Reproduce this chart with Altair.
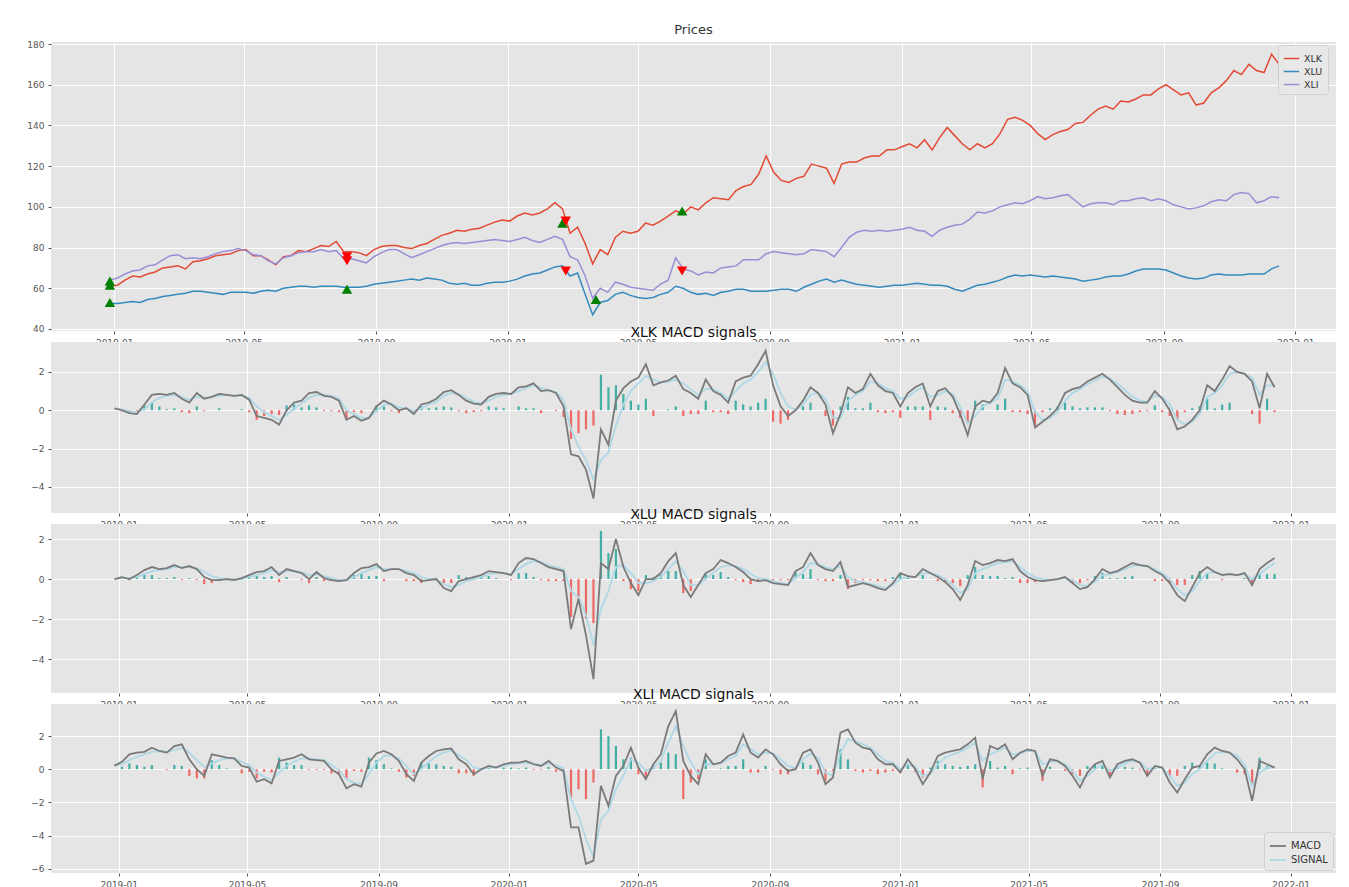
import altair as alt
import pandas as pd

# ---------------- data (weekly samples) ----------------
START = "2018-12-28"
N_WEEKS = 156
dates = pd.date_range(START, periods=N_WEEKS, freq="7D")

TICKERS = ["XLK", "XLU", "XLI"]
TICKER_COLORS = ["#E24A33", "#348ABD", "#988ED5"]

XLK_PRICE = [
    61, 61.5, 64, 66, 65.5, 67, 68, 70, 70.5, 71,
    69.5, 73, 73.5, 74.5, 76, 76.5, 77, 78.5, 79, 76,
    76, 74, 71.5, 75.5, 76, 78.5, 78, 79.5, 81, 80.5,
    83, 78, 78, 77.5, 76, 79, 80.5, 81, 81, 80,
    79.5, 81, 82, 84, 86, 87, 88.5, 88, 89, 89.5,
    91, 92.5, 93.5, 93, 95.5, 97, 96, 97, 99, 102,
    99, 87, 90, 82, 72, 79, 76.5, 85, 88, 87,
    88, 92, 91, 93, 95.5, 98, 96.5, 100, 98.5, 102,
    104.5, 104, 103.5, 108, 110, 111, 116, 125, 117, 113,
    112, 114, 115, 121, 120, 119, 111.5, 121, 122, 122,
    124, 125, 125, 128, 128, 129.5, 131, 129, 133, 128,
    134, 139, 135, 131, 128, 131, 129, 131, 136, 143,
    144, 142.5, 140, 136, 133, 135.5, 137, 138, 141, 141.5,
    145, 148, 149.5, 148, 152, 151.5, 153, 155, 155, 158,
    160, 157.5, 155, 156, 150, 151, 156, 158.5, 162, 167,
    165, 170, 167, 166, 175, 170,
]
XLU_PRICE = [
    52.5, 52.5, 53, 53.5, 53, 54.5, 55, 56, 56.5, 57,
    57.5, 58.5, 58.5, 58, 57.5, 57, 58, 58, 58, 57.5,
    58.5, 59, 58.5, 60, 60.5, 61, 61, 60.5, 61, 61,
    61, 60.5, 60.5, 60.5, 61, 62, 62.5, 63, 63.5, 64,
    64.5, 64, 65, 64.5, 64, 62.5, 62, 62.5, 61.5, 61.5,
    62.5, 63, 63, 63.5, 64.5, 66, 67, 67.5, 69, 70.5,
    71, 66, 67.5, 57, 47, 53, 54, 57, 58, 56.5,
    55.5, 55, 55.5, 57, 58, 61, 60, 58, 57, 57.5,
    56.5, 58, 58.5, 59.5, 59.5, 58.5, 58.5, 58.5, 59, 59.5,
    59.5, 58.5, 60.5, 62, 63.5, 64.5, 63, 64, 63, 62,
    61.5, 61, 60.5, 61, 61.5, 61.5, 62, 62.5, 62, 61.5,
    61.5, 61, 59.5, 58.5, 60, 61.5, 62, 63, 64, 65.5,
    66.5, 66, 66.5, 66, 65.5, 66, 65.5, 65, 64.5, 63.5,
    64, 64.5, 65.5, 66, 66, 67, 68.5, 69.5, 69.5, 69.5,
    69, 67.5, 66, 65, 64.5, 65, 66.5, 67, 66.5, 66.5,
    66.5, 67, 67, 67, 69.5, 71,
]
XLI_PRICE = [
    64, 65, 67, 68.5, 69, 71, 71.5, 74, 76, 76.5,
    74.5, 75, 74.5, 75.5, 77, 78, 78.5, 79.5, 78.5, 76.5,
    76, 73.5, 72, 75, 76, 77.5, 78, 78, 79, 78,
    78.5, 74.5, 74.5, 73.5, 72.5, 75.5, 77.5, 79, 79, 77,
    75, 76.5, 78, 79.5, 81, 82, 82.5, 82, 82.5, 83,
    83.5, 84, 83.5, 83, 84, 85, 83.5, 82.5, 84, 85.5,
    84, 75.5, 74, 66, 55, 60, 58, 63, 62, 60.5,
    60, 59.5, 59, 62, 64, 75, 69.5, 68.5, 66.5, 68,
    67.5, 70, 70.5, 71, 74, 74, 74, 77, 78, 77.5,
    77, 76.5, 77, 79, 78.5, 78, 75.5, 80, 85, 87.5,
    88.5, 88, 88.5, 88, 88.5, 89, 90, 88.5, 88, 85.5,
    88.5, 90, 91, 91.5, 94, 97.5, 97, 98, 100, 101,
    102, 101.5, 103, 105, 104, 104.5, 105.5, 106, 103, 100,
    101.5, 102, 102, 101, 103, 103, 104, 104.5, 103, 104,
    103, 101, 100, 99, 99.5, 100.5, 102.5, 103.5, 103, 106,
    107, 106.5, 102, 103, 105, 104.5,
]

BUY_DATES = ["2018-12-28", "2018-12-28", "2018-12-28", "2019-08-05",
             "2020-02-21", "2020-03-23", "2020-06-11"]
BUY_VALUES = [63.5, 61.5, 53.0, 59.5, 92.0, 54.5, 98.0]
SELL_DATES = ["2019-08-05", "2019-08-05", "2020-02-24", "2020-02-24", "2020-06-11"]
SELL_VALUES = [75.5, 73.5, 93.0, 68.5, 68.5]

XLK_MACD = [
    0.1, 0.0, -0.15, -0.2, 0.3, 0.8, 0.85, 0.8, 0.9, 0.6,
    0.4, 0.9, 0.6, 0.7, 0.85, 0.8, 0.75, 0.8, 0.55, -0.3,
    -0.4, -0.5, -0.75, 0.0, 0.4, 0.5, 0.9, 0.95, 0.75, 0.7,
    0.5, -0.5, -0.3, -0.55, -0.4, 0.2, 0.5, 0.3, 0.0, 0.1,
    -0.2, 0.3, 0.4, 0.6, 0.95, 1.05, 0.8, 0.5, 0.35, 0.3,
    0.7, 0.85, 0.9, 0.85, 1.2, 1.25, 1.4, 1.0, 1.05, 0.9,
    0.2, -2.3, -2.4, -3.1, -4.6, -1.0, -1.8, 0.5, 1.15, 1.5,
    1.7, 2.4, 1.3, 1.45, 1.55, 1.8, 1.1, 0.9, 0.6, 1.6,
    1.0, 0.8, 0.4, 1.5, 1.7, 1.8, 2.4, 3.1, 1.3, 0.2,
    -0.3, 0.0, 0.5, 1.2, 0.9, 0.3, -1.2, -0.2, 1.2, 0.9,
    1.1, 1.9, 1.3, 1.0, 0.9, 0.2, 0.9, 1.2, 1.4, 0.2,
    1.0, 1.15, 0.7, -0.2, -1.3, 0.2, 0.5, 0.4, 0.9, 2.2,
    1.4, 1.2, 0.8, -0.9, -0.6, -0.3, 0.1, 0.9, 1.1, 1.2,
    1.5, 1.7, 1.9, 1.6, 1.2, 0.8, 0.5, 0.4, 0.4, 1.0,
    0.6, 0.0, -1.0, -0.85, -0.5, 0.0, 1.3, 1.0, 1.6, 2.3,
    2.0, 1.9, 1.5, 0.1, 1.9, 1.2,
]
XLK_SIGNAL = [
    0.1, 0.05, -0.05, -0.1, 0.05, 0.4, 0.65, 0.75, 0.8, 0.7,
    0.55, 0.7, 0.65, 0.7, 0.75, 0.8, 0.75, 0.75, 0.65, 0.2,
    -0.1, -0.3, -0.5, -0.25, 0.1, 0.35, 0.65, 0.8, 0.8, 0.75,
    0.6, 0.0, -0.2, -0.4, -0.4, -0.05, 0.3, 0.35, 0.15, 0.1,
    -0.05, 0.1, 0.3, 0.45, 0.75, 0.9, 0.85, 0.65, 0.45, 0.35,
    0.5, 0.7, 0.8, 0.85, 1.0, 1.15, 1.3, 1.15, 1.05, 0.95,
    0.55, -1.0, -1.9, -2.6, -3.6, -2.6, -2.2, -0.8, 0.3, 1.0,
    1.4, 1.8, 1.6, 1.45, 1.5, 1.6, 1.4, 1.1, 0.8, 1.1,
    1.1, 0.9, 0.6, 1.0, 1.4, 1.6, 2.0, 2.5, 1.9, 0.9,
    0.2, 0.0, 0.3, 0.8, 0.9, 0.6, -0.4, -0.4, 0.5, 0.8,
    1.0, 1.5, 1.4, 1.15, 1.0, 0.6, 0.7, 1.0, 1.2, 0.7,
    0.8, 1.0, 0.85, 0.2, -0.7, -0.3, 0.2, 0.4, 0.6, 1.6,
    1.5, 1.3, 1.0, -0.1, -0.5, -0.4, -0.1, 0.5, 0.9, 1.1,
    1.35, 1.55, 1.75, 1.65, 1.4, 1.05, 0.7, 0.5, 0.45, 0.75,
    0.7, 0.3, -0.5, -0.75, -0.6, -0.2, 0.7, 0.9, 1.3, 1.9,
    2.0, 1.9, 1.7, 0.8, 1.3, 1.3,
]
XLK_HIST = [
    0.0, -0.05, -0.1, -0.1, 0.25, 0.4, 0.2, 0.05, 0.1, -0.1,
    -0.15, 0.2, -0.05, 0.0, 0.1, 0.0, 0.0, 0.05, -0.1, -0.5,
    -0.3, -0.2, -0.25, 0.25, 0.3, 0.15, 0.25, 0.15, -0.05, -0.05,
    -0.1, -0.5, -0.1, -0.15, 0.0, 0.25, 0.2, -0.05, -0.15, 0.0,
    -0.15, 0.2, 0.1, 0.15, 0.2, 0.15, -0.05, -0.15, -0.1, -0.05,
    0.2, 0.15, 0.1, 0.0, 0.2, 0.1, 0.1, -0.15, 0.0, -0.05,
    -0.35, -1.5, -1.2, -1.0, -0.8, 1.85, 1.2, 1.3, 0.85, 0.5,
    0.3, 0.6, -0.3, 0.0, 0.05, 0.2, -0.3, -0.2, -0.2, 0.5,
    -0.1, -0.1, -0.2, 0.5, 0.3, 0.2, 0.4, 0.6, -0.6, -0.7,
    -0.5, 0.0, 0.2, 0.4, 0.0, -0.3, -0.8, 0.2, 0.7, 0.1,
    0.1, 0.4, -0.1, -0.15, -0.1, -0.4, 0.2, 0.2, 0.2, -0.5,
    0.2, 0.15, -0.15, -0.4, -0.6, 0.5, 0.3, 0.0, 0.3, 0.6,
    -0.1, -0.1, -0.2, -0.8, -0.1, 0.1, 0.2, 0.4, 0.2, 0.1,
    0.15, 0.15, 0.15, -0.05, -0.2, -0.25, -0.2, -0.1, -0.05, 0.25,
    -0.1, -0.3, -0.5, -0.1, 0.1, 0.2, 0.6, 0.1, 0.3, 0.4,
    0.0, 0.0, -0.2, -0.7, 0.6, -0.1,
]

XLU_MACD = [
    0.0, 0.1, 0.0, 0.2, 0.45, 0.6, 0.5, 0.55, 0.7, 0.55,
    0.65, 0.5, 0.1, -0.05, -0.05, 0.0, -0.05, 0.05, 0.2, 0.35,
    0.4, 0.6, 0.2, 0.5, 0.4, 0.3, 0.0, 0.35, 0.05, -0.05,
    -0.1, -0.05, 0.3, 0.55, 0.6, 0.75, 0.4, 0.5, 0.5, 0.3,
    0.2, -0.1, -0.05, 0.0, -0.45, -0.6, -0.1, 0.0, 0.1, 0.2,
    0.4, 0.35, 0.3, 0.2, 0.8, 1.05, 1.0, 0.8, 0.6, 0.5,
    0.4, -2.5, -1.0, -2.8, -5.0, 0.8, 0.5, 2.0, 0.6, -0.2,
    -0.8, 0.0, 0.0, 0.3, 0.9, 1.3, -0.3, -0.9, -0.3, 0.3,
    0.5, 0.95, 0.8, 0.6, 0.35, 0.0, -0.1, -0.05, -0.2, -0.25,
    -0.3, 0.4, 0.6, 1.3, 0.7, 0.5, 0.4, 0.85, -0.4, -0.3,
    -0.2, -0.3, -0.45, -0.55, -0.2, 0.3, 0.15, 0.1, 0.5, 0.3,
    0.1, -0.15, -0.5, -1.05, -0.3, 0.9, 0.7, 0.8, 0.95, 0.9,
    1.0, 0.4, 0.1, -0.05, -0.1, -0.05, 0.0, 0.1, -0.2, -0.5,
    -0.4, 0.0, 0.5, 0.3, 0.4, 0.6, 0.8, 0.7, 0.65, 0.4,
    0.2, -0.2, -0.8, -1.1, -0.4, 0.3, 0.6, 0.35, 0.2, 0.25,
    0.2, 0.3, -0.3, 0.5, 0.8, 1.05,
]
XLU_SIGNAL = [
    0.0, 0.05, 0.05, 0.1, 0.25, 0.4, 0.45, 0.5, 0.6, 0.6,
    0.6, 0.55, 0.35, 0.15, 0.05, 0.0, 0.0, 0.0, 0.1, 0.2,
    0.3, 0.45, 0.35, 0.4, 0.4, 0.35, 0.2, 0.25, 0.15, 0.05,
    -0.05, -0.05, 0.1, 0.3, 0.45, 0.6, 0.5, 0.5, 0.5, 0.4,
    0.3, 0.1, 0.0, 0.0, -0.25, -0.4, -0.3, -0.1, 0.0, 0.1,
    0.25, 0.3, 0.3, 0.25, 0.5, 0.75, 0.9, 0.85, 0.7, 0.6,
    0.5, -0.6, -0.9, -1.8, -3.3, -1.5, -0.6, 0.6, 0.7, 0.3,
    -0.2, -0.2, -0.1, 0.1, 0.5, 0.9, 0.4, -0.3, -0.3, 0.0,
    0.3, 0.6, 0.7, 0.65, 0.5, 0.25, 0.05, 0.0, -0.1, -0.2,
    -0.25, 0.05, 0.35, 0.8, 0.75, 0.6, 0.5, 0.65, 0.1, -0.1,
    -0.15, -0.25, -0.35, -0.45, -0.3, 0.0, 0.1, 0.1, 0.3, 0.3,
    0.2, 0.0, -0.3, -0.7, -0.5, 0.3, 0.5, 0.65, 0.8, 0.85,
    0.9, 0.6, 0.3, 0.1, 0.0, -0.05, 0.0, 0.05, -0.05, -0.3,
    -0.35, -0.15, 0.2, 0.25, 0.35, 0.5, 0.65, 0.7, 0.65, 0.5,
    0.3, 0.0, -0.5, -0.8, -0.6, -0.1, 0.3, 0.35, 0.25, 0.25,
    0.2, 0.25, 0.0, 0.25, 0.55, 0.8,
]
XLU_HIST = [
    0.0, 0.05, -0.05, 0.1, 0.2, 0.2, 0.05, 0.05, 0.1, -0.05,
    0.05, -0.05, -0.25, -0.2, -0.1, 0.0, -0.05, 0.05, 0.1, 0.15,
    0.1, 0.15, -0.15, 0.1, 0.0, -0.05, -0.2, 0.1, -0.1, -0.1,
    -0.05, 0.0, 0.2, 0.25, 0.15, 0.15, -0.1, 0.0, 0.0, -0.1,
    -0.1, -0.2, -0.05, 0.0, -0.2, -0.2, 0.2, 0.1, 0.1, 0.1,
    0.15, 0.05, 0.0, -0.05, 0.3, 0.3, 0.1, -0.05, -0.1, -0.1,
    -0.1, -1.9, -1.2, -2.0, -2.2, 2.4, 1.3, 1.5, -0.1, -0.5,
    -0.6, 0.2, 0.1, 0.2, 0.4, 0.4, -0.7, -0.6, 0.0, 0.3,
    0.2, 0.35, 0.1, -0.05, -0.15, -0.25, -0.15, -0.05, -0.1, -0.05,
    -0.05, 0.35, 0.25, 0.5, -0.05, -0.1, -0.1, 0.2, -0.5, -0.2,
    -0.05, -0.05, -0.1, -0.1, 0.1, 0.3, 0.05, 0.0, 0.2, 0.0,
    -0.1, -0.15, -0.2, -0.35, 0.2, 0.6, 0.2, 0.15, 0.15, 0.05,
    0.1, -0.2, -0.2, -0.15, -0.1, 0.0, 0.0, 0.05, -0.15, -0.2,
    -0.05, 0.15, 0.3, 0.05, 0.05, 0.1, 0.15, 0.0, 0.0, -0.1,
    -0.1, -0.2, -0.3, -0.3, 0.2, 0.4, 0.3, 0.0, -0.05, 0.0,
    0.0, 0.05, -0.3, 0.25, 0.25, 0.25,
]

XLI_MACD = [
    0.22, 0.45, 0.9, 1.0, 1.05, 1.3, 1.1, 1.0, 1.4, 1.5,
    0.6, 0.0, -0.4, 0.9, 0.8, 0.7, 0.65, 0.2, 0.1, -0.75,
    -0.6, -0.85, 0.5, 0.6, 0.7, 0.9, 0.6, 0.55, 0.5, 0.0,
    -0.3, -1.15, -0.9, -1.05, 0.4, 0.95, 1.1, 0.9, 0.5, -0.3,
    -0.7, 0.4, 0.8, 1.1, 1.2, 1.25, 0.6, 0.3, -0.3, 0.0,
    0.2, 0.1, 0.3, 0.4, 0.4, 0.5, 0.3, 0.2, 0.5, 0.1,
    -0.1, -3.5, -3.5, -5.7, -5.5, -1.0, -2.2, -0.4, 0.2, 1.3,
    0.1, -0.6, 0.3, 0.9, 2.6, 3.5, 0.5, -0.4, -0.9, 0.9,
    0.3, 0.4, 0.8, 1.0, 2.1, 1.0, 0.7, 1.2, 0.9, 0.3,
    -0.1, 0.0, 1.0, 1.2, 0.4, -0.9, -0.5, 2.2, 2.4, 1.6,
    1.3, 1.2, 0.6, 0.3, 0.3, -0.2, 0.6, 0.0, -0.9, -0.2,
    0.8, 1.0, 1.1, 1.2, 1.5, 1.9, -0.6, 1.4, 1.2, 1.5,
    0.6, 1.0, 1.2, 1.1, -0.4, 0.6, 0.5, 0.2, -0.4, -1.1,
    -0.2, 0.3, 0.5, -0.5, 0.3, 0.5, 0.6, 0.4, -0.4, 0.2,
    0.1, -0.8, -1.4, -0.6, 0.1, 0.2, 0.9, 1.3, 1.1, 1.0,
    0.6, 0.0, -1.9, 0.5, 0.3, 0.1,
]
XLI_SIGNAL = [
    0.22, 0.3, 0.55, 0.75, 0.9, 1.05, 1.1, 1.05, 1.15, 1.3,
    1.0, 0.55, 0.15, 0.35, 0.55, 0.65, 0.65, 0.45, 0.25, -0.2,
    -0.45, -0.65, -0.2, 0.2, 0.45, 0.65, 0.65, 0.6, 0.55, 0.25,
    -0.05, -0.6, -0.8, -0.9, -0.3, 0.4, 0.8, 0.85, 0.65, 0.2,
    -0.3, 0.0, 0.45, 0.8, 1.0, 1.1, 0.85, 0.55, 0.1, 0.0,
    0.1, 0.1, 0.2, 0.3, 0.35, 0.4, 0.35, 0.25, 0.35, 0.25,
    0.05, -1.8, -2.8, -4.2, -5.3, -3.0, -2.5, -1.2, -0.4, 0.6,
    0.4, -0.1, 0.1, 0.5, 1.6, 2.6, 1.4, 0.4, -0.3, 0.3,
    0.3, 0.35, 0.6, 0.8, 1.5, 1.2, 0.9, 1.0, 0.95, 0.6,
    0.2, 0.05, 0.6, 0.95, 0.7, -0.2, -0.4, 1.0, 1.8, 1.7,
    1.5, 1.3, 0.9, 0.5, 0.4, 0.0, 0.3, 0.15, -0.4, -0.3,
    0.3, 0.7, 0.9, 1.05, 1.3, 1.6, 0.5, 0.9, 1.1, 1.3,
    0.9, 0.95, 1.1, 1.1, 0.3, 0.45, 0.5, 0.3, -0.1, -0.7,
    -0.4, 0.0, 0.3, -0.1, 0.1, 0.35, 0.5, 0.45, 0.0, 0.1,
    0.1, -0.4, -1.0, -0.8, -0.3, 0.0, 0.5, 0.95, 1.05, 1.0,
    0.8, 0.3, -1.0, -0.2, 0.1, 0.1,
]
XLI_HIST = [
    0.0, 0.15, 0.35, 0.25, 0.15, 0.25, 0.0, -0.05, 0.25, 0.2,
    -0.4, -0.55, -0.55, 0.55, 0.25, 0.05, 0.0, -0.25, -0.15, -0.55,
    -0.15, -0.2, 0.7, 0.4, 0.25, 0.25, -0.05, -0.05, -0.05, -0.25,
    -0.25, -0.55, -0.1, -0.15, 0.7, 0.55, 0.3, 0.05, -0.15, -0.5,
    -0.4, 0.4, 0.35, 0.3, 0.2, 0.15, -0.25, -0.25, -0.4, 0.0,
    0.1, 0.0, 0.1, 0.1, 0.05, 0.1, -0.05, -0.05, 0.15, -0.15,
    -0.15, -1.7, -1.2, -1.8, -0.8, 2.4, 2.0, 1.4, 0.6, 0.7,
    -0.3, -0.5, 0.2, 0.4, 1.0, 0.9, -1.8, -0.8, -0.6, 0.6,
    0.0, 0.05, 0.2, 0.2, 0.6, -0.2, -0.2, 0.2, -0.05, -0.3,
    -0.3, -0.05, 0.4, 0.25, -0.3, -0.7, -0.1, 1.2, 0.6, -0.1,
    -0.2, -0.1, -0.3, -0.2, -0.1, -0.2, 0.3, -0.15, -0.5, 0.1,
    0.5, 0.3, 0.2, 0.15, 0.2, 0.3, -1.1, 0.5, 0.1, 0.2,
    -0.3, 0.05, 0.1, 0.0, -0.7, 0.15, 0.0, -0.1, -0.3, -0.4,
    0.2, 0.3, 0.2, -0.4, 0.2, 0.15, 0.1, -0.05, -0.4, 0.1,
    0.0, -0.4, -0.4, 0.2, 0.4, 0.2, 0.4, 0.35, 0.05, 0.0,
    -0.2, -0.3, -0.9, 0.7, 0.2, 0.0,
]

PRICE_TICKS = [40, 60, 80, 100, 120, 140, 160, 180]
MACD_TICKS = [-4, -2, 0, 2]
MACD_TICKS_XLI = [-6, -4, -2, 0, 2]

# ---------------- styling ----------------
FONT = "DejaVu Sans"
BG = "#E5E5E5"
TEAL = "#26A69A"
RED = "#EF5350"
MACD_COLOR = "#7A7A7A"
SIGNAL_COLOR = "#ADD8E6"

X_DOMAIN = [alt.DateTime(year=2018, month=11, date=3, hours=8),
            alt.DateTime(year=2022, month=2, date=7, hours=19)]
X_TICKS = [alt.DateTime(year=y, month=m, date=1)
           for (y, m) in [(2019, 1), (2019, 5), (2019, 9), (2020, 1), (2020, 5),
                          (2020, 9), (2021, 1), (2021, 5), (2021, 9), (2022, 1)]]

W = 1285


def xenc():
    return alt.X("date:T", scale=alt.Scale(domain=X_DOMAIN),
                 axis=alt.Axis(values=X_TICKS, format="%Y-%m", title=None,
                               labelFlush=False, labelOverlap=False))


def yaxis(ticks):
    return alt.Axis(values=ticks, title=None)


# ---------------- prices panel ----------------
price_df = pd.DataFrame({
    "date": list(dates) * 3,
    "ticker": ["XLK"] * N_WEEKS + ["XLU"] * N_WEEKS + ["XLI"] * N_WEEKS,
    "price": XLK_PRICE + XLU_PRICE + XLI_PRICE,
})
buy_df = pd.DataFrame({"date": pd.to_datetime(BUY_DATES), "price": BUY_VALUES})
sell_df = pd.DataFrame({"date": pd.to_datetime(SELL_DATES), "price": SELL_VALUES})

price_y = alt.Y("price:Q", scale=alt.Scale(domain=[39, 181], nice=False, zero=False),
                axis=yaxis(PRICE_TICKS))

price_lines = alt.Chart(price_df).mark_line(strokeWidth=1.5).encode(
    x=xenc(), y=price_y,
    color=alt.Color("ticker:N", scale=alt.Scale(domain=TICKERS, range=TICKER_COLORS),
                    legend=alt.Legend(title=None, orient="none", legendX=1227, legendY=3,
                                      symbolType="stroke", symbolStrokeWidth=1.5,
                                      symbolSize=240, labelFontSize=9.5, labelColor="#333",
                                      fillColor="#E8E8E8", strokeColor="#D0D0D0",
                                      padding=5, rowPadding=0, cornerRadius=3)),
)
buys = alt.Chart(buy_df).mark_point(shape="triangle-up", filled=True, size=110,
                                    color="#008000", opacity=1).encode(x=xenc(), y=price_y)
sells = alt.Chart(sell_df).mark_point(shape="triangle-down", filled=True, size=110,
                                      color="#FF0000", opacity=1).encode(x=xenc(), y=price_y)

p1 = alt.layer(price_lines, buys, sells).properties(
    width=W, height=289,
    title=alt.Title("Prices", fontSize=13, fontWeight="normal", color="#333",
                    offset=3, font=FONT),
)


# ---------------- MACD panels ----------------
def macd_panel(name, macd, signal, hist, domain, ticks, height, legend):
    df = pd.DataFrame({"date": dates, "MACD": macd, "SIGNAL": signal, "hist": hist})
    yscale = alt.Scale(domain=domain, nice=False, zero=False)
    bars = alt.Chart(df).mark_bar(width=2.2, opacity=0.85).encode(
        x=xenc(),
        y=alt.Y("hist:Q", scale=yscale, axis=yaxis(ticks)),
        color=alt.condition("datum.hist > 0", alt.value(TEAL), alt.value(RED)),
    )
    color_kwargs = dict(scale=alt.Scale(domain=["MACD", "SIGNAL"],
                                        range=[MACD_COLOR, SIGNAL_COLOR]))
    if legend:
        color_kwargs["legend"] = alt.Legend(
            title=None, orient="bottom-right", offset=3,
            symbolType="stroke", symbolStrokeWidth=1.8, symbolSize=256,
            labelFontSize=10, labelColor="#333",
            fillColor="#E8E8E8", strokeColor="#D0D0D0",
            padding=5, rowPadding=0, cornerRadius=3)
    else:
        color_kwargs["legend"] = None
    lines = alt.Chart(df).transform_fold(
        ["SIGNAL", "MACD"], as_=["series", "val"]
    ).mark_line(strokeWidth=1.8).encode(
        x=xenc(),
        y=alt.Y("val:Q", scale=yscale, axis=yaxis(ticks)),
        color=alt.Color("series:N", **color_kwargs),
    )
    return alt.layer(bars, lines).properties(
        width=W, height=height,
        title=alt.Title(name + " MACD signals", fontSize=14, fontWeight="normal",
                        color="#111", offset=2, font=FONT),
    )


p2 = macd_panel("XLK", XLK_MACD, XLK_SIGNAL, XLK_HIST, [-5.36, 3.56], MACD_TICKS, 171, False)
p3 = macd_panel("XLU", XLU_MACD, XLU_SIGNAL, XLU_HIST, [-5.69, 2.75], MACD_TICKS, 169, False)
p4 = macd_panel("XLI", XLI_MACD, XLI_SIGNAL, XLI_HIST, [-6.25, 3.93], MACD_TICKS_XLI, 169, True)

chart = alt.vconcat(p1, p2, p3, p4, spacing=11).properties(
    bounds="flush",
    padding={"left": 26, "top": 24, "right": 0, "bottom": 0},
).resolve_scale(
    color="independent"
).configure(
    background="white", font=FONT,
).configure_view(
    fill=BG, strokeWidth=0,
).configure_axis(
    labelFont=FONT, labelFontSize=9, labelColor="#555",
    tickColor="#555", tickSize=3, labelPadding=4,
    grid=True, gridColor="#FFFFFF", gridWidth=1, gridOpacity=1,
    domain=False,
).configure_legend(
    labelFont=FONT,
)

chart.save("out.html", embed_options={"renderer": "svg", "actions": False})
